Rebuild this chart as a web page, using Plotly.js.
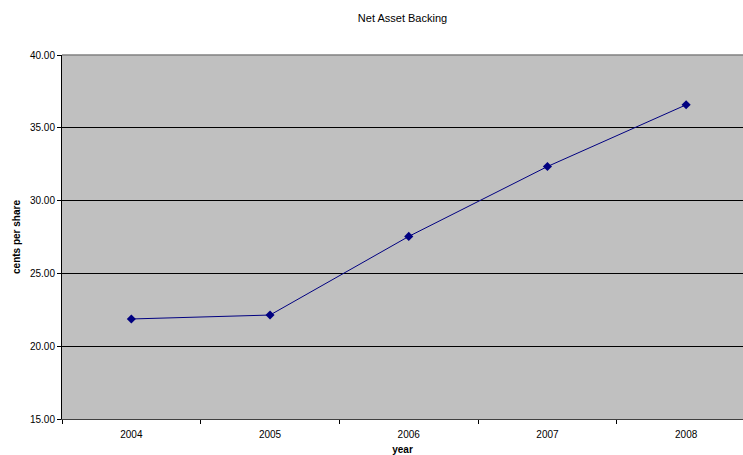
<!DOCTYPE html>
<html>
<head>
<meta charset="utf-8">
<script src="https://cdn.plot.ly/plotly-3.0.1.min.js"></script>
<style>html,body{margin:0;padding:0;background:#fff;}#chart{width:743px;height:455px;}</style>
</head>
<body>
<div id="chart"></div>
<script>
var years = ["2004", "2005", "2006", "2007", "2008"];
var centsPerShare = [21.87, 22.14, 27.54, 32.34, 36.58];
var yTicks = [15, 20, 25, 30, 35, 40];

var trace = {
  x: years,
  y: centsPerShare,
  type: "scatter",
  mode: "lines+markers",
  line: {color: "#000080", width: 1},
  marker: {symbol: "diamond", size: 7, color: "#000080"},
  hoverinfo: "x+y"
};

var layout = {
  width: 743,
  height: 455,
  margin: {l: 62, r: 0, t: 54.5, b: 36.3, pad: 0},
  paper_bgcolor: "#ffffff",
  plot_bgcolor: "#C0C0C0",
  font: {family: "Liberation Sans, Arial, sans-serif", size: 10, color: "#000"},
  showlegend: false,
  title: {text: "Net Asset Backing", font: {size: 11, color: "#000"}, x: 0.5, xanchor: "center", y: 0.96, yanchor: "middle", xref: "paper"},
  xaxis: {
    type: "category",
    range: [-0.5, 4.41],
    tickson: "boundaries",
    ticks: "outside",
    ticklen: 4,
    tickcolor: "#000",
    ticklabelstandoff: 6,
    showgrid: false,
    showline: true,
    linecolor: "#404040",
    linewidth: 1,
    zeroline: false,
    tickfont: {size: 10},
    title: {text: "<b>year</b>", font: {size: 10}, standoff: 8}
  },
  yaxis: {
    range: [15, 40],
    tickvals: yTicks,
    tickformat: ".2f",
    ticks: "outside",
    ticklen: 4,
    tickcolor: "#000",
    showgrid: true,
    gridcolor: "#000",
    gridwidth: 1,
    showline: true,
    linecolor: "#000",
    linewidth: 1,
    zeroline: false,
    tickfont: {size: 10},
    title: {text: "<b>cents per share</b>", font: {size: 10}, standoff: 7}
  },
  shapes: [
    {type: "line", xref: "paper", yref: "paper", x0: 0, x1: 1, y0: 1, y1: 1, line: {color: "#808080", width: 1.5}}
  ]
};

Plotly.newPlot("chart", [trace], layout, {staticPlot: true, displayModeBar: false});
</script>
</body>
</html>
